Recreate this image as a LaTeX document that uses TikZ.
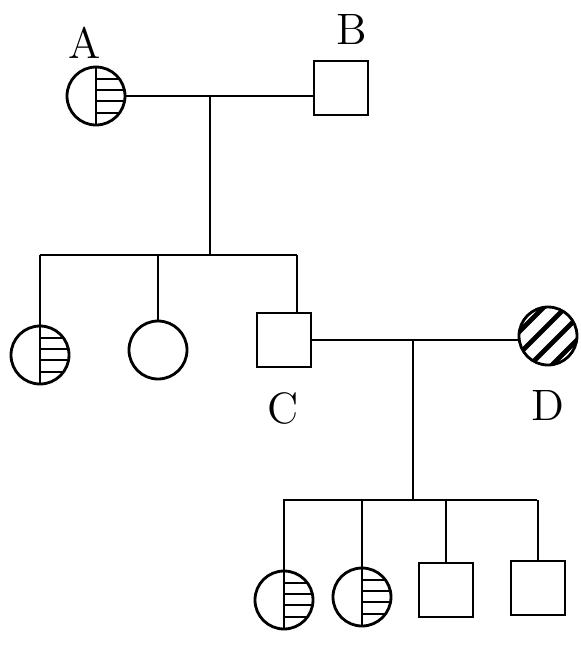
\documentclass[tikz,border=0pt]{standalone}
\usepackage{tikz}

\tikzset{
  female/.style={circle, draw, line width=0.8pt, minimum size=5.8mm, inner sep=0pt},
  male/.style={rectangle, draw, line width=0.8pt, minimum size=5.4mm, inner sep=0pt},
  carrier/.style={female, path picture={
    \draw[line width=0.8pt] (path picture bounding box.north) -- (path picture bounding box.south);
    \foreach \dy in {-17,-6,5,17} \draw[line width=0.8pt] (path picture bounding box.center) ++(0,\dy) -- ++(40,0);}},
  affected/.style={female, path picture={
    \foreach \dx in {-33,-11,11,33} \draw[line width=1.4pt] (path picture bounding box.center) ++(\dx-40,40) -- ++(80,-80);}},
  tag/.style={font=\fontsize{12.5}{14}\selectfont, inner sep=0pt}
}

\begin{document}
\begin{tikzpicture}[x=0.1mm, y=-0.1mm, line width=0.8pt]
  \useasboundingbox (0,0) rectangle (581,645);
  % parents A and B
  \node[carrier] (A) at (96,96) {}; \node[tag] (tA) at (85,43) {A};
  \node[male] (B) at (341,88) {}; \node[tag] (tB) at (352,29) {B};
  \draw (A.east) -- (A.east -| B.west);
  \coordinate (m1) at (210,96); \coordinate (s1) at (210,255);
  \coordinate (s1l) at (40,255); \coordinate (s1r) at (297,255);
  \draw (m1) -- (s1); \draw (s1l) -- (s1r);
  % second generation
  \node[carrier] (c1) at (40,355) {};
  \node[female] (c2) at (158,350) {};
  \node[male] (C) at (284,340) {}; \node[tag] (tC) at (283,408) {C};
  \draw (s1l) -- (c1.north); \draw (c2.north |- s1) -- (c2.north); \draw (s1r) -- (s1r |- C.north);
  % partner D
  \node[affected] (D) at (548,336) {}; \node[tag] (tD) at (548,405) {D};
  \draw (C.east) -- (C.east -| D.west);
  \coordinate (m2) at (413,340); \coordinate (s2) at (413,500);
  \coordinate (s2l) at (283,500); \coordinate (s2r) at (537,500);
  \draw (m2) -- (s2); \draw (s2l) -- (s2r);
  % third generation
  \node[carrier] (g1) at (284,600) {};
  \node[carrier] (g2) at (362,597) {};
  \node[male] (g3) at (446,590) {};
  \node[male] (g4) at (538,588) {};
  \foreach \g in {g1,g2,g3,g4} \draw (\g.north |- s2) -- (\g.north);
\end{tikzpicture}
\end{document}
